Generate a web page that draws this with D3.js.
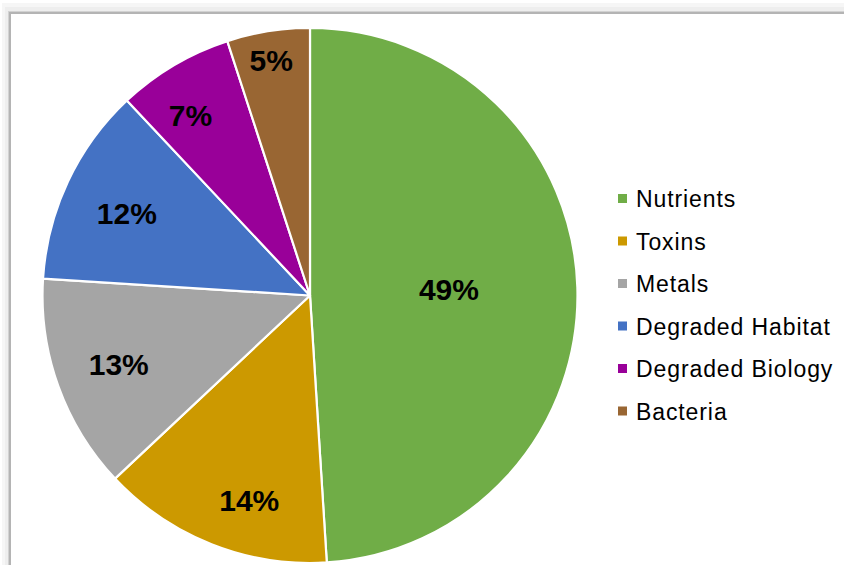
<!DOCTYPE html>
<html>
<head>
<meta charset="utf-8">
<script src="https://cdn.jsdelivr.net/npm/d3@7/dist/d3.min.js"></script>
<style>
  html, body { margin: 0; padding: 0; background: #ffffff; }
  svg { display: block; }
</style>
</head>
<body>
<svg id="chart" width="844" height="565"></svg>
<script>
// Share of impairments by cause
const categories = ["Nutrients", "Toxins", "Metals", "Degraded Habitat", "Degraded Biology", "Bacteria"];
const shares = [49, 14, 13, 12, 7, 5];
const colors = ["#70AD47", "#CC9900", "#A5A5A5", "#4472C4", "#990099", "#996633"];

// Label placement per slice (best-fit style): fraction of radius, angular nudge in degrees
const labelRadius = [0.52, 0.80, 0.76, 0.75, 0.81, 0.89];
const labelNudge = [-0.9, -5.1, 0, -1.1, -2.9, -0.4];

const svg = d3.select("#chart");
const W = 844, H = 565;

// Framed chart area with a soft drop shadow on the top/left edges
const frame = svg.append("g");
frame.append("rect").attr("x", 2).attr("y", 3).attr("width", W).attr("height", H).attr("fill", "#f6f6f6");
frame.append("rect").attr("x", 5).attr("y", 7).attr("width", W).attr("height", H).attr("fill", "#eeeeee");
frame.append("rect").attr("x", 8).attr("y", 11).attr("width", W).attr("height", H).attr("fill", "#d2d2d2");
frame.append("rect").attr("x", 9).attr("y", 12).attr("width", W).attr("height", H).attr("fill", "#b4b4b4");
frame.append("rect").attr("x", 11).attr("y", 14).attr("width", W).attr("height", H).attr("fill", "#ffffff");

// Pie
const cx = 310, cy = 295.5, radius = 267.5;
const color = d3.scaleOrdinal().domain(categories).range(colors);

const pie = d3.pie().sort(null).value(d => d.value);
const data = categories.map((c, i) => ({ name: c, value: shares[i] }));
const arcs = pie(data);

const arc = d3.arc().innerRadius(0).outerRadius(radius);

const g = svg.append("g").attr("transform", `translate(${cx},${cy})`);

g.selectAll("path.slice")
  .data(arcs)
  .join("path")
  .attr("class", "slice")
  .attr("d", arc)
  .attr("fill", d => color(d.data.name))
  .attr("stroke", "#ffffff")
  .attr("stroke-width", 2.2)
  .attr("stroke-linejoin", "round");

// Percentage labels positioned along each slice's mid-angle
const labelPos = (d, i) => {
  const a = (d.startAngle + d.endAngle) / 2 + labelNudge[i] * Math.PI / 180;
  const r = radius * labelRadius[i];
  return [r * Math.sin(a), -r * Math.cos(a)];
};

g.selectAll("text.pct")
  .data(arcs)
  .join("text")
  .attr("class", "pct")
  .attr("transform", (d, i) => `translate(${labelPos(d, i)})`)
  .attr("text-anchor", "middle")
  .attr("dy", "0.36em")
  .style("font-family", "'Liberation Sans', Arial, sans-serif")
  .style("font-weight", "bold")
  .style("font-size", "30px")
  .attr("fill", "#000000")
  .text(d => d.data.value + "%");

// Legend
const legend = svg.append("g").attr("transform", "translate(618,207)");
const rowH = 42.5;
const items = legend.selectAll("g.item")
  .data(categories)
  .join("g")
  .attr("class", "item")
  .attr("transform", (d, i) => `translate(0,${i * rowH})`);

items.append("rect")
  .attr("x", 0)
  .attr("y", -13)
  .attr("width", 9)
  .attr("height", 9)
  .attr("fill", d => color(d));

items.append("text")
  .attr("x", 18)
  .attr("y", 0)
  .style("font-family", "'Liberation Sans', Arial, sans-serif")
  .style("font-size", "23px")
  .style("letter-spacing", "0.9px")
  .attr("fill", "#000000")
  .text(d => d);
</script>
</body>
</html>
